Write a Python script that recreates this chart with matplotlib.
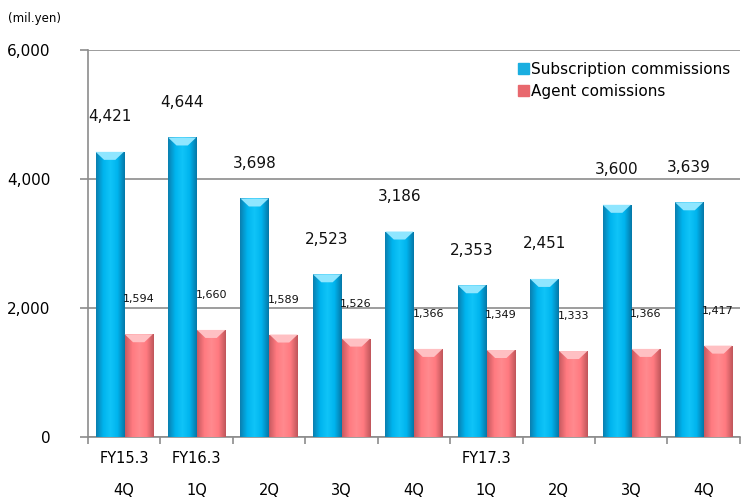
import matplotlib.pyplot as plt
import numpy as np
from matplotlib.patches import Polygon

quarters = ['4Q', '1Q', '2Q', '3Q', '4Q', '1Q', '2Q', '3Q', '4Q']
fiscal_years = ['FY15.3', 'FY16.3', '', '', '', 'FY17.3', '', '', '']
subscription = [4421, 4644, 3698, 2523, 3186, 2353, 2451, 3600, 3639]
agent = [1594, 1660, 1589, 1526, 1366, 1349, 1333, 1366, 1417]

blue_grad = ['#0a7fb0', '#00b4ee', '#10c4f8', '#00b4ee', '#0578a8']
pink_grad = ['#c85a60', '#ff7a80', '#ff8a8f', '#ff7a80', '#c0565b']
blue_top = '#8fe6ff'
pink_top = '#ffc0c3'

plt.rcParams['font.family'] = ['DejaVu Sans']

fig = plt.figure(figsize=(7.42, 4.99), dpi=100)
ax = fig.add_axes([0.1186, 0.1242, 0.8785, 0.7756])

x = np.arange(len(quarters))
width = 0.39


def gradient_bars(xs, heights, colors, top_color, label):
    bars = ax.bar(xs, heights, width, color=colors[1], edgecolor='none',
                  label=label, zorder=3)
    cmap = plt.matplotlib.colors.LinearSegmentedColormap.from_list('g', colors)
    grad = np.linspace(0, 1, 64).reshape(1, -1)
    # bevel height in data units (about 8 px)
    bev = 6000 / 387 * 8
    for b in bars:
        x0, w, h = b.get_x(), b.get_width(), b.get_height()
        im = ax.imshow(grad, cmap=cmap, aspect='auto', extent=[x0, x0 + w, 0, h],
                       zorder=3)
        im.set_clip_path(b)
        ax.add_patch(Polygon([[x0, h], [x0 + w, h], [x0 + w * 0.7, h - bev],
                              [x0 + w * 0.3, h - bev]],
                             closed=True, color=top_color, lw=0, zorder=4))
    return bars


gradient_bars(x - 0.2, subscription, blue_grad, blue_top, 'Subscription commissions')
gradient_bars(x + 0.2, agent, pink_grad, pink_top, 'Agent comissions')

# value labels sit about 35 px above each bar
off = 6000 / 387 * 35
for i in range(len(x)):
    ax.text(x[i] - 0.2, subscription[i] + off, f'{subscription[i]:,}',
            ha='center', va='center', fontsize=11, color='#111111', zorder=5)
    ax.text(x[i] + 0.2, agent[i] + off, f'{agent[i]:,}',
            ha='center', va='center', fontsize=8, color='#111111', zorder=5)

ax.set_xlim(-0.5, len(x) - 0.5)
ax.set_ylim(0, 6000)
ax.set_yticks([0, 2000, 4000, 6000])
ax.set_yticklabels(['0', '2,000', '4,000', '6,000'], fontsize=11)
ax.yaxis.grid(True, color='#8c8c8c', lw=1.2, zorder=0)
ax.set_axisbelow(True)

ax.set_xticks(np.arange(len(x) + 1) - 0.5)
ax.set_xticklabels([])
ax.tick_params(axis='x', length=5, color='#8c8c8c', width=1.2)
ax.tick_params(axis='y', length=6, color='#8c8c8c', width=1.2, pad=21)

for s in ['top', 'right']:
    ax.spines[s].set_visible(False)
for s in ['left', 'bottom']:
    ax.spines[s].set_color('#8c8c8c')
    ax.spines[s].set_linewidth(1.2)

for i in range(len(x)):
    if fiscal_years[i]:
        ax.text(x[i], -0.055, fiscal_years[i], transform=ax.get_xaxis_transform(),
                ha='center', va='center', fontsize=10.5)
    ax.text(x[i], -0.137, quarters[i], transform=ax.get_xaxis_transform(),
            ha='center', va='center', fontsize=10.5)

fig.text(0.011, 0.962, '(mil.yen)', fontsize=8.5, ha='left', va='center')

leg = ax.legend(loc='upper left', bbox_to_anchor=(0.65, 0.985), frameon=False,
                fontsize=11, handlelength=0.7, handleheight=0.7,
                handletextpad=0.15, labelspacing=0.45, borderaxespad=0)
leg.legend_handles[0].set_color('#1aaee0')
leg.legend_handles[1].set_color('#e8686e')

fig.savefig('out.png', dpi=100)
